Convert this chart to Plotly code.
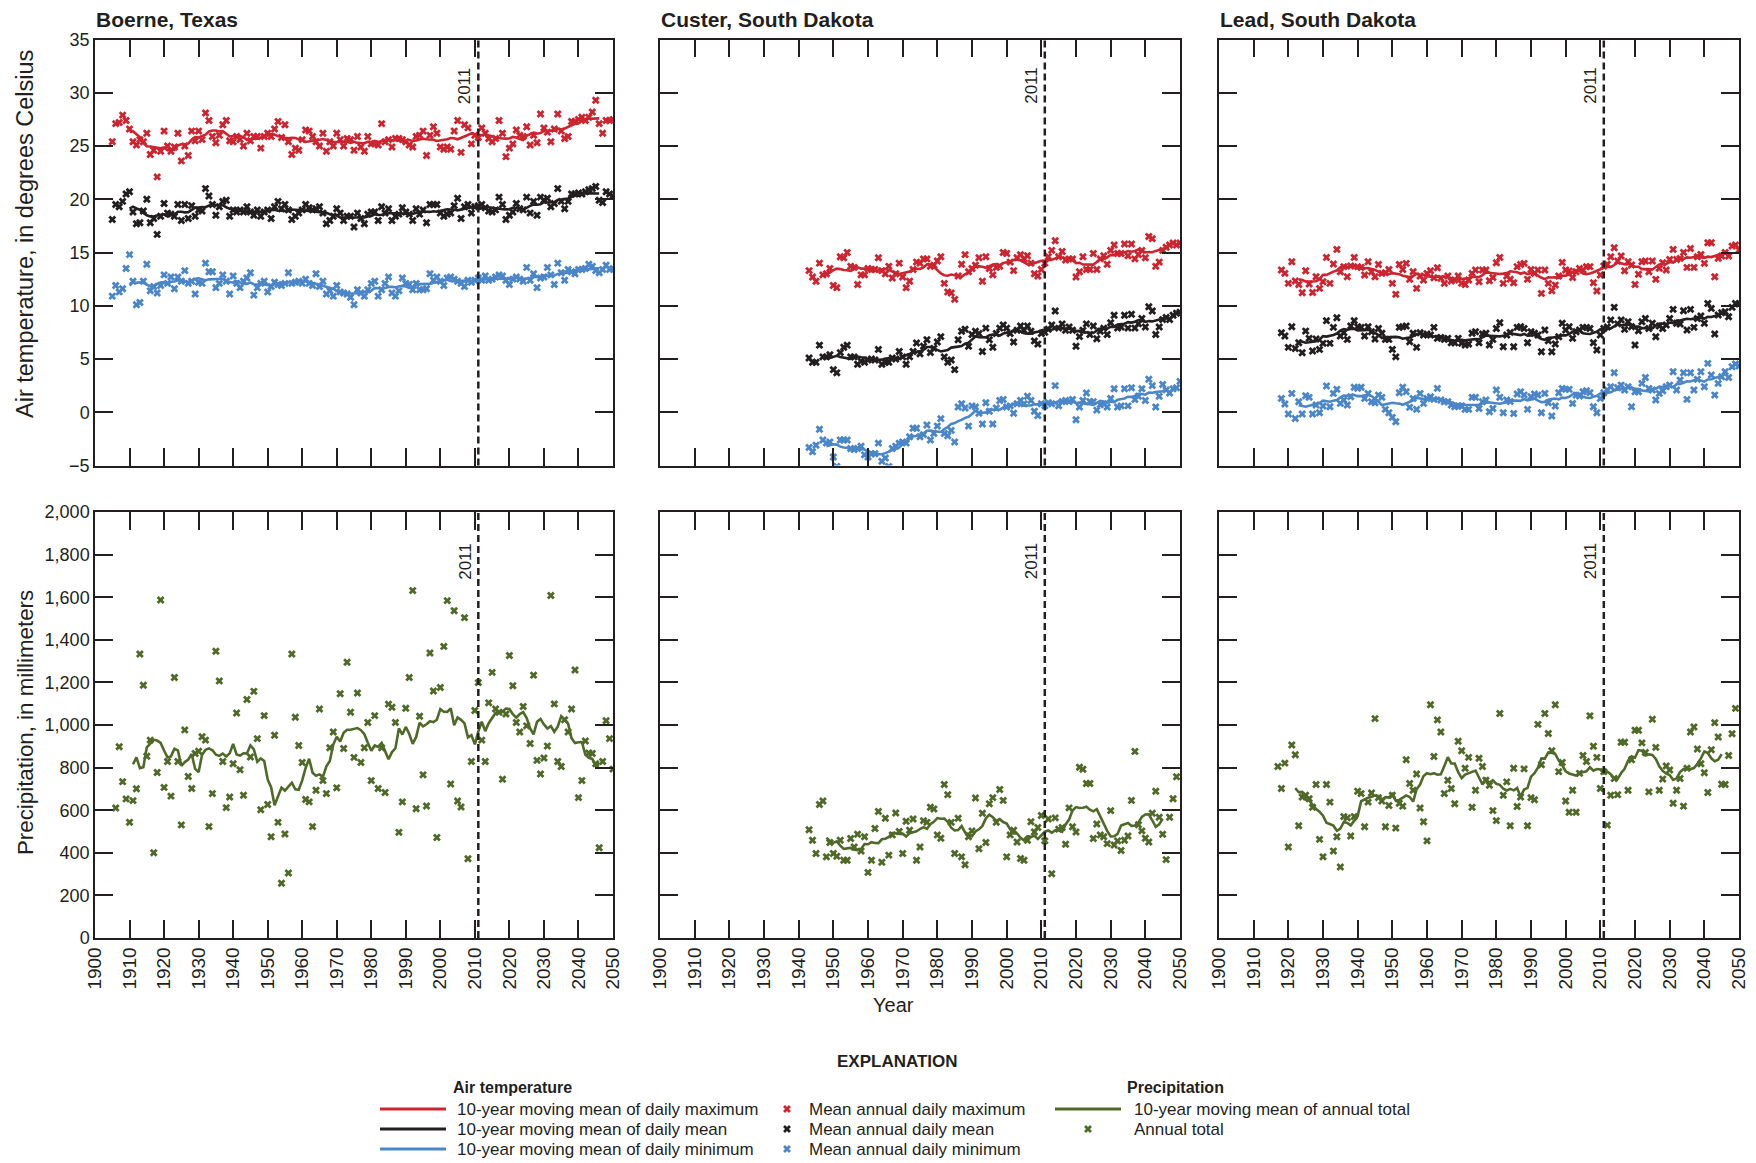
import pandas as pd
import plotly.graph_objects as go

W, H = 1756, 1163
FONT = '"Liberation Sans", Arial, sans-serif'
RED, BLACK, BLUE, GREEN = "#cc2530", "#231f20", "#4a86c8", "#4f6a28"

# ---------------- data ----------------
sites = ["Boerne, Texas", "Custer, South Dakota", "Lead, South Dakota"]
marker_year = 2011

boerne_t_start = 1905
boerne_tmax = [25.4, 27.1, 27.2, 27.9, 27.4, 26.6, 25.4, 25.1, 25.6, 25.4,
               26.2, 24.2, 24.6, 22.1, 24.5, 26.4, 25.0, 24.5, 24.9, 26.2,
               23.6, 25.0, 24.1, 26.4, 25.5, 26.4, 25.6, 28.1, 27.4, 25.9,
               25.3, 26.0, 27.0, 27.4, 25.5, 25.4, 25.9, 25.6, 25.0, 26.2,
               25.5, 25.9, 25.9, 24.8, 25.9, 26.2, 25.9, 26.6, 27.3, 25.8,
               27.0, 25.4, 24.2, 24.8, 24.6, 25.6, 26.5, 26.4, 25.9, 25.4,
               25.0, 26.2, 24.5, 25.4, 25.0, 26.2, 25.6, 25.0, 25.7, 25.6,
               24.6,
               25.9, 24.9, 24.5, 25.9, 25.2, 25.2, 25.1, 27.1, 25.4, 25.6,
               24.9, 25.7, 25.7, 25.6, 25.4, 25.1, 24.9, 25.9, 26.0, 26.4,
               24.1, 26.0, 26.8, 26.2, 24.9, 24.7, 24.9, 24.7, 26.4, 27.4,
               24.4, 27.0, 26.7, 25.2, 26.0, 25.8, 26.7, 26.2, 25.7, 25.4,
               25.7, 27.4, 26.2, 24.0, 24.8, 25.2, 26.5, 26.0, 25.9, 26.8,
               25.1, 26.0, 25.3, 28.0, 26.7, 26.3, 25.4, 26.6, 28.0, 26.4,
               25.7, 25.9, 27.3, 27.3, 27.5, 27.7, 27.4, 27.7, 28.2, 29.3,
               27.1, 26.2, 27.4, 27.4, 27.5]
boerne_tmean = [18.1, 19.5, 19.3, 19.8, 20.5, 20.7, 18.8, 17.7, 17.8, 18.9,
                20.0, 17.8, 18.2, 16.7, 18.4, 19.6, 18.7, 18.6, 18.4, 19.5,
                18.0, 19.5, 18.2, 19.4, 18.4, 19.0, 18.9, 21.0, 20.3, 19.5,
                18.5, 19.3, 19.8, 19.9, 18.4, 19.0, 18.8, 19.0, 18.8, 19.3,
                18.8, 18.5, 19.0, 18.4, 18.8, 19.0, 18.2, 19.3, 19.8, 19.1,
                19.5, 19.0, 18.1, 18.4, 18.7, 19.0, 19.5, 19.2, 19.0, 19.1,
                19.3, 18.7, 17.7, 18.0, 18.4, 19.1, 18.7, 18.0, 18.4, 18.4,
                17.4,
                18.7, 18.2, 17.7, 18.6, 18.8, 18.8, 18.0, 19.3, 18.7, 19.1,
                18.0, 18.4, 18.6, 19.2, 18.8, 18.6, 18.0, 19.1, 18.6, 19.0,
                17.8, 19.5, 19.5, 19.5, 18.7, 18.4, 18.6, 18.7, 19.4, 20.1,
                18.2, 19.3, 19.5, 18.7, 19.3, 19.4, 19.5, 19.2, 18.9, 18.8,
                19.0, 20.2, 19.5, 18.1, 18.5, 18.8, 19.6, 19.1, 19.0, 20.2,
                18.7, 19.8, 18.5, 20.2, 19.9, 20.1, 19.3, 19.6, 21.0, 19.8,
                19.1, 19.8, 20.5, 20.5, 20.6, 20.5, 20.7, 20.9, 21.0, 21.2,
                19.9, 19.7, 20.7, 20.5, 20.3]
boerne_tmin = [10.9, 11.9, 11.3, 11.6, 13.5, 14.8, 12.3, 10.1, 10.3, 12.3,
               13.9, 11.4, 11.8, 11.2, 11.9, 12.9, 12.1, 12.7, 11.6, 12.7,
               12.3, 13.3, 12.1, 12.3, 11.1, 12.2, 12.1, 14.0, 13.2, 13.2,
               11.7, 12.1, 12.9, 12.3, 11.1, 12.8, 12.1, 11.7, 12.3, 12.6,
               13.1, 11.0, 11.7, 12.1, 12.3, 11.3, 11.8, 12.2, 12.0, 11.9,
               12.1, 13.1, 12.1, 12.2, 12.3, 12.1, 12.5, 12.1, 11.9, 13.0,
               11.8, 12.3, 11.1, 11.4, 10.9, 11.9, 11.3, 11.2, 11.1, 10.8,
               10.1,
               11.5, 11.2, 10.9, 11.5, 12.1, 12.3, 10.9, 11.5, 12.1, 12.7,
               11.2, 10.9, 11.4, 12.6, 12.1, 12.0, 11.5, 12.1, 11.5, 11.5,
               11.6, 13.0, 12.4, 12.7, 12.3, 11.9, 12.6, 12.7, 12.5, 12.3,
               12.1, 11.8, 12.4, 12.2, 12.4, 12.6, 12.4, 12.8, 12.4, 12.5,
               12.7, 12.9, 12.8, 12.4, 12.0, 12.5, 12.7, 12.5, 12.3, 13.6,
               12.4, 13.0, 11.7, 12.6, 12.7, 13.6, 12.9, 12.0, 14.0, 13.1,
               12.4, 13.4, 13.2, 13.0, 13.4, 13.4, 13.5, 13.9, 13.7, 13.3,
               13.1, 13.4, 13.8, 13.4, 13.5]
boerne_p_start = 1906
boerne_precip = [610, 898, 734, 653, 543, 645, 701, 1333, 1187, 853,
                 929, 400, 777, 1587, 707, 829, 666, 1223, 829, 531,
                 977, 758, 702, 866, 877, 945, 929, 523, 678, 1346,
                 1207, 829, 612, 662, 818, 1056, 790, 670, 1120, 850,
                 1158, 936, 602, 1044, 627, 475, 952, 543, 257, 488,
                 305, 1333, 1036, 904, 824, 650, 639, 523, 694, 1075,
                 739, 678, 893, 967, 705, 1147, 890, 1295, 1060, 848,
                 1150, 824, 893, 1012, 739, 1044, 702, 893, 683, 1098,
                 1083, 1012, 496, 639, 1079, 1223, 1631, 607, 1041, 766,
                 620, 1338, 1160, 472, 1176, 1369, 1584, 723, 1536, 643,
                 615, 1504, 372, 829, 1068, 1199, 929, 829, 1104, 1247,
                 1075, 1060, 745, 1052, 1326, 1184, 1012, 967, 1087, 996,
                 913, 1234, 834, 770, 845, 901, 1608, 1099, 829, 805,
                 1025, 967, 1075, 1258, 659, 739, 925, 869, 866, 818,
                 424, 829, 1020, 936, 793]

custer_t_start = 1943
custer_tmax = [13.3, 12.7, 12.3, 14.0, 12.9, 13.0, 13.5, 11.9, 11.7, 14.6,
               14.5, 15.0, 13.7, 13.6, 12.0, 12.9, 12.9, 13.5, 13.4, 13.4,
               14.5, 13.3, 13.0, 13.7, 12.6, 13.0, 14.0, 12.7, 11.7, 12.3,
               13.4, 14.1, 14.0, 14.4, 14.4, 13.7, 13.8, 14.2, 14.6, 12.1,
               11.3, 11.2, 10.6, 12.8, 13.9, 14.8, 13.2, 13.5, 13.8, 14.5,
               12.3, 14.6, 13.5, 12.9, 13.6, 13.7, 15.0, 14.9, 14.1, 13.3,
               14.5, 14.8, 14.4, 14.7, 14.0, 13.0, 12.8, 13.4, 14.0, 14.6,
               15.2, 16.1, 14.6, 15.1, 14.3, 14.4, 14.4, 12.7, 13.2, 14.6,
               13.4, 13.4, 14.9, 13.4, 14.4, 14.7, 13.9, 15.2, 15.7, 14.9,
               14.9, 15.8, 14.7, 15.8, 14.4, 14.8, 15.2, 14.5, 16.5, 16.3,
               13.7, 14.1, 15.2, 15.5, 15.7, 15.9, 15.7, 15.9]
custer_tmean = [5.1, 4.7, 4.7, 6.3, 5.2, 5.2, 5.4, 4.0, 3.7, 5.6,
                6.1, 6.3, 5.2, 5.2, 4.5, 4.8, 4.7, 4.9, 5.0, 4.9,
                5.9, 4.5, 4.7, 4.7, 5.1, 5.0, 5.7, 5.2, 4.5, 5.2,
                5.7, 6.5, 5.5, 6.2, 6.8, 5.6, 6.0, 6.6, 7.1, 5.2,
                4.7, 4.9, 4.0, 6.8, 7.6, 7.8, 6.2, 7.3, 7.6, 7.4,
                5.7, 7.9, 6.8, 6.1, 7.4, 7.9, 8.2, 7.9, 7.4, 6.6,
                7.7, 8.1, 7.7, 8.1, 7.6, 6.7, 6.4, 7.4, 7.5, 7.8,
                8.2, 9.5, 7.9, 8.3, 7.7, 8.0, 7.7, 6.2, 7.1, 7.7,
                8.3, 7.3, 8.1, 6.9, 7.6, 7.9, 7.3, 8.4, 9.1, 7.9,
                8.0, 9.1, 7.9, 9.2, 7.9, 8.3, 8.8, 8.0, 9.9, 9.5,
                7.3, 8.0, 8.7, 8.9, 8.7, 9.1, 9.3, 9.4]
custer_tmin = [-3.3, -3.7, -3.1, -1.6, -2.6, -2.9, -2.8, -4.2, -5.1, -2.6,
               -2.6, -2.6, -3.4, -3.5, -3.4, -3.2, -4.0, -4.2, -3.9, -3.9,
               -2.9, -4.6, -4.3, -5.1, -3.4, -3.2, -2.9, -2.8, -2.9, -2.3,
               -1.5, -1.5, -2.3, -2.1, -1.2, -2.6, -2.0, -1.3, -0.6, -2.0,
               -2.2, -1.7, -2.8, 0.5, 0.8, 0.4, -1.3, 0.6, 0.5, -0.1,
               -1.1, 0.9, 0.1, -1.1, 0.4, 1.1, 1.2, 0.5, 0.6, -0.1,
               0.8, 1.1, 0.8, 1.5, 1.1, 0.1, -0.3, 0.8, 0.6, 0.9,
               0.8, 2.5, 0.6, 1.0, 1.1, 1.0, 1.2, -0.7, 0.5, 1.1,
               1.8, 1.0, 1.0, 0.2, 0.7, 0.8, 0.5, 1.3, 2.2, 0.5,
               0.6, 2.2, 0.6, 2.3, 1.2, 1.5, 2.2, 1.1, 3.1, 2.5,
               0.5, 1.5, 2.6, 2.1, 1.8, 2.2, 2.3, 2.9]
custer_p_start = 1943
custer_precip = [508, 459, 397, 627, 643, 381, 448, 397, 384, 459,
                 365, 365, 467, 427, 487, 408, 475, 308, 365, 514,
                 594, 356, 562, 389, 484, 587, 500, 397, 548, 506,
                 559, 365, 427, 551, 543, 614, 606, 484, 468, 721,
                 673, 543, 397, 562, 381, 344, 475, 503, 657, 419,
                 586, 448, 630, 659, 543, 697, 646, 381, 484, 506,
                 451, 373, 365, 459, 546, 498, 519, 575, 456, 559,
                 302, 564, 511, 519, 440, 611, 522, 498, 802, 792,
                 725, 725, 467, 535, 484, 475, 443, 598, 437, 456,
                 411, 459, 479, 646, 876, 532, 503, 468, 451, 586,
                 689, 567, 487, 368, 567, 654, 757]

lead_t_start = 1918
lead_tmax = [13.35, 13.04, 12.1, 14.13, 12.32, 12.0, 11.22, 13.29, 12.04, 11.25,
             12.73, 11.63, 12.26, 14.54, 12.1, 13.92, 15.29, 13.2, 13.67, 12.73,
             13.73, 14.54, 13.67, 13.6, 12.88, 14.13, 13.2, 12.73, 13.88, 13.04,
             13.1, 13.41, 12.1, 11.07, 13.88, 13.41, 13.98, 12.48, 13.2, 11.63,
             12.79, 12.41, 13.04, 13.29, 12.63, 13.57, 12.57, 12.1, 12.79, 12.32,
             12.41, 12.79, 12.1, 12.0, 12.41, 13.04, 13.35, 12.26, 13.35, 13.35,
             12.35, 12.66, 14.04,
             14.54, 12.1, 12.79, 12.5, 12.16, 13.67, 13.88, 13.98, 12.48, 13.41,
             13.04, 13.35, 11.16, 13.35, 12.1, 11.41, 11.94, 12.79, 14.07, 13.35,
             13.26, 12.66, 13.2, 13.51, 13.35, 13.67, 13.67, 12.16, 11.38, 12.88,
             13.73, 13.9, 14.6, 15.45, 14.2, 14.67, 13.29, 14.13, 13.82, 12.0,
             12.95, 14.13, 14.2, 13.2, 14.2, 12.48, 13.51, 14.04, 13.35, 14.35,
             15.29, 14.35, 14.45, 15.01, 13.6, 15.38, 13.6, 14.6, 14.82, 13.98,
             15.92, 15.92, 12.73, 14.45, 14.67, 15.01, 14.67, 15.6, 15.7, 15.23]
lead_tmean = [7.47, 7.16, 6.09, 8.03, 5.99, 6.53, 5.59, 7.62, 6.94, 5.75,
              6.87, 5.9, 6.47, 8.6, 6.47, 7.97, 8.88, 7.16, 7.47, 6.84,
              8.1, 8.6, 8.03, 7.97, 7.16, 8.03, 7.56, 6.87, 7.87, 7.41,
              6.84, 6.84, 5.9, 5.2, 7.97, 8.03, 8.1, 6.62, 7.41, 6.09,
              7.47, 7.25, 7.34, 7.25, 7.97, 6.94, 7.03, 6.84, 6.94, 6.53,
              6.53, 6.94, 6.47, 6.31, 6.41, 7.41, 7.56, 6.53, 7.34, 7.41,
              6.31, 6.84, 7.87,
              8.41, 6.15, 7.25, 7.5, 6.15, 7.97, 8.03, 7.87, 6.53, 7.56,
              7.41, 7.25, 5.68, 7.72, 6.72, 5.68, 6.41, 7.09, 8.35, 7.72,
              8.03, 6.94, 7.56, 7.72, 7.97, 7.97, 7.87, 6.53, 5.84, 7.25,
              7.87, 8.0, 8.66, 9.85, 8.3, 8.66, 7.78, 8.5, 8.03, 6.31,
              7.66, 8.5, 8.81, 7.87, 8.35, 7.09, 8.1, 7.87, 8.19, 8.81,
              9.66, 8.35, 8.28, 9.53, 7.72, 9.66, 7.97, 8.81, 9.03, 8.35,
              10.22, 9.75, 7.34, 9.13, 9.35, 9.44, 8.97, 9.85, 10.22, 10.16]
lead_tmin = [1.3, 0.77, -0.17, 1.77, -0.58, 0.99, -0.17, 1.55, 1.4, -0.17,
             0.68, -0.04, 0.58, 2.46, 0.52, 1.77, 2.15, 0.83, 1.15, 0.68,
             1.46, 2.34, 2.24, 2.34, 1.3, 1.77, 0.99, 0.9, 1.61, 1.4,
             0.27, -0.04, -0.48, -0.89, 1.83, 2.34, 1.93, 0.46, 1.3, 0.27,
             1.77, 0.83, 1.3, 1.46, 1.21, 2.24, 1.15, 0.99, 0.99, 0.68,
             0.52, 0.58, 0.58, 0.27, 0.27, 1.4, 1.4, 0.36, 0.99, 1.15,
             0.05, 0.36, 2.09,
             1.4, -0.04, 1.15, 1.0, -0.11, 1.71, 1.93, 1.61, 0.27, 1.46,
             1.71, 1.61, -0.04, 1.77, 0.9, -0.36, 0.58, 1.83, 2.24, 2.15,
             2.15, 0.83, 1.61, 1.52, 1.93, 2.02, 1.83, 0.52, -0.04, 1.3,
             1.83, 2.1, 2.4, 3.71, 2.3, 2.55, 2.09, 2.4, 0.52, 1.93,
             1.93, 2.71, 3.27, 2.24, 2.09, 1.15, 1.77, 2.02, 2.4, 2.55,
             3.81, 2.09, 3.02, 3.71, 1.21, 3.71, 2.09, 3.09, 3.81, 2.4,
             4.59, 3.49, 1.61, 2.71, 3.33, 3.81, 3.27, 4.27, 4.53, 4.34]
lead_p_start = 1917
lead_precip = [805, 702, 821, 427, 906, 860, 527, 662, 670, 654,
               614, 721, 463, 381, 721, 638, 408, 475, 333, 570,
               564, 479, 570, 689, 678, 522, 638, 681, 1030, 659,
               643, 522, 622, 670, 516, 633, 619, 837, 725, 694,
               770, 610, 546, 456, 1095, 852, 1024, 967, 678, 741,
               702, 630, 924, 879, 797, 848, 614, 694, 844, 805,
               741, 717, 598, 551, 1054, 670, 733, 527, 797, 617,
               662, 794, 527, 659, 649, 1003, 813, 1054, 960, 879,
               1095, 781, 824, 643, 590, 694, 590, 773, 857, 829,
               1043, 900, 848, 702, 781, 530, 670, 749, 673, 919,
               919, 694, 837, 975, 975, 916, 871, 686, 1027, 895,
               694, 746, 808, 789, 633, 694, 749, 619, 797, 967,
               991, 887, 818, 776, 683, 884, 1011, 944, 722, 721,
               857, 959, 1078]

temp_ticks = [-5, 0, 5, 10, 15, 20, 25, 30, 35]
precip_ticks = list(range(0, 2001, 200))
year_ticks = list(range(1900, 2051, 10))

legend_lines = ["10-year moving mean of daily maximum", "10-year moving mean of daily mean",
                "10-year moving mean of daily minimum"]
legend_marks = ["Mean annual daily maximum", "Mean annual daily mean", "Mean annual daily minimum"]

# ---------------- helpers ----------------
def years(start, vals):
    return list(range(start, start + len(vals)))


def moving(start, vals):
    s = pd.Series(vals, index=years(start, vals), dtype=float)
    r = s.rolling(10, center=True).mean().dropna()
    return list(r.index), list(r.values)


fig = go.Figure()

col_px = [(95, 613), (660, 1180), (1219, 1739)]
row_px = [(39.5, 465.5), (512, 938)]


def xd(a, b):
    return [a / W, b / W]


def yd(top, bot):
    return [1 - bot / H, 1 - top / H]


temp_data = [
    (boerne_t_start, boerne_tmax, boerne_tmean, boerne_tmin),
    (custer_t_start, custer_tmax, custer_tmean, custer_tmin),
    (lead_t_start, lead_tmax, lead_tmean, lead_tmin),
]
prec_data = [
    (boerne_p_start, boerne_precip),
    (custer_p_start, custer_precip),
    (lead_p_start, lead_precip),
]

MS = 7
for c, (st, tmax, tmean, tmin) in enumerate(temp_data):
    ax = "" if c == 0 else str(c + 1)
    for vals, col in ((tmax, RED), (tmean, BLACK), (tmin, BLUE)):
        fig.add_trace(go.Scatter(x=years(st, vals), y=vals, mode="markers",
                                 marker=dict(symbol="x", size=MS, color=col, line=dict(width=0)),
                                 xaxis="x" + ax, yaxis="y" + ax, showlegend=False, hoverinfo="skip"))
    for vals, col in ((tmax, RED), (tmean, BLACK), (tmin, BLUE)):
        mx, my = moving(st, vals)
        fig.add_trace(go.Scatter(x=mx, y=my, mode="lines", line=dict(color=col, width=2.6),
                                 xaxis="x" + ax, yaxis="y" + ax, showlegend=False, hoverinfo="skip"))

for c, (st, vals) in enumerate(prec_data):
    ax = str(c + 4)
    fig.add_trace(go.Scatter(x=years(st, vals), y=vals, mode="markers",
                             marker=dict(symbol="x", size=MS, color=GREEN, line=dict(width=0)),
                             xaxis="x" + ax, yaxis="y" + ax, showlegend=False, hoverinfo="skip"))
    mx, my = moving(st, vals)
    fig.add_trace(go.Scatter(x=mx, y=my, mode="lines", line=dict(color=GREEN, width=2.6),
                             xaxis="x" + ax, yaxis="y" + ax, showlegend=False, hoverinfo="skip"))

axis_common = dict(ticks="inside", ticklen=18, tickwidth=1.5, tickcolor=BLACK, showline=True,
                   linecolor=BLACK, linewidth=1.5, mirror="ticks", showgrid=False, zeroline=False,
                   tickfont=dict(family=FONT, size=18, color=BLACK))

layout = dict(width=W, height=H, autosize=False, margin=dict(l=0, r=0, t=0, b=0, pad=0, autoexpand=False),
              paper_bgcolor="white", plot_bgcolor="rgba(0,0,0,0)", showlegend=False,
              font=dict(family=FONT, color=BLACK))

for r in range(2):
    for c in range(3):
        i = r * 3 + c + 1
        key = "" if i == 1 else str(i)
        xa = dict(axis_common, domain=xd(*col_px[c]), range=[1900, 2050], tickvals=year_ticks,
                  anchor="y" + key, showticklabels=(r == 1), tickangle=-90,
                  tickfont=dict(family=FONT, size=19, color=BLACK))
        if r == 0:
            ya = dict(axis_common, domain=yd(*row_px[0]), range=[-5, 35], tickvals=temp_ticks,
                      anchor="x" + key, showticklabels=(c == 0))
        else:
            ya = dict(axis_common, domain=yd(*row_px[1]), range=[0, 2000], tickvals=precip_ticks,
                      tickformat=",", anchor="x" + key, showticklabels=(c == 0))
        layout["xaxis" + key] = xa
        layout["yaxis" + key] = ya

# hidden overlay axis for the explanation block (pixel-like coordinates)
layout["xaxis7"] = dict(domain=[0, 1], range=[0, W], visible=False, fixedrange=True)
layout["yaxis7"] = dict(domain=[0, 1], range=[H, 0], visible=False, fixedrange=True)
fig.update_layout(**layout)

shapes = []
annotations = []
for i in range(1, 7):
    key = "" if i == 1 else str(i)
    shapes.append(dict(type="line", xref="x" + key, yref="y" + key + " domain", x0=marker_year,
                       x1=marker_year, y0=0, y1=1, line=dict(color=BLACK, width=2.5, dash="7px,4px")))
    mid_off = 46 if i <= 3 else 49
    annotations.append(dict(text=str(marker_year), x=marker_year, xref="x" + key,
                            y=1 - mid_off / 426, yref="y" + key + " domain", textangle=-90,
                            xanchor="right", yanchor="middle", xshift=-2, showarrow=False,
                            font=dict(family=FONT, size=17, color=BLACK)))

for c, name in enumerate(sites):
    annotations.append(dict(text="<b>" + name + "</b>", x=(col_px[c][0] - 1) / W, y=1 - 19 / H,
                            xref="paper", yref="paper", xanchor="left", yanchor="middle",
                            showarrow=False, font=dict(family=FONT, size=21, color=BLACK)))

annotations.append(dict(text="Air temperature, in degrees Celsius", x=25 / W, y=1 - 234 / H,
                        xref="paper", yref="paper", textangle=-90, showarrow=False,
                        xanchor="center", yanchor="middle", font=dict(family=FONT, size=23.5, color=BLACK)))
annotations.append(dict(text="Precipitation, in millimeters", x=25 / W, y=1 - 723 / H,
                        xref="paper", yref="paper", textangle=-90, showarrow=False,
                        xanchor="center", yanchor="middle", font=dict(family=FONT, size=22.3, color=BLACK)))
annotations.append(dict(text="Year", x=893 / W, y=1 - 1005 / H, xref="paper", yref="paper",
                        showarrow=False, xanchor="center", yanchor="middle",
                        font=dict(family=FONT, size=20, color=BLACK)))

# explanation
def pa(text, x, y, size=17, anchor="left"):
    annotations.append(dict(text=text, x=x / W, y=1 - y / H, xref="paper", yref="paper",
                            showarrow=False, xanchor=anchor, yanchor="middle",
                            font=dict(family=FONT, size=size, color=BLACK)))

pa("<b>EXPLANATION</b>", 897, 1061, size=17, anchor="center")
pa("<b>Air temperature</b>", 451, 1087, size=16)
pa("<b>Precipitation</b>", 1125, 1087, size=16)
rows_y = [1109, 1129, 1149]
for k, col in enumerate((RED, BLACK, BLUE)):
    shapes.append(dict(type="line", xref="paper", yref="paper", x0=380 / W, x1=446 / W,
                       y0=1 - rows_y[k] / H, y1=1 - rows_y[k] / H, line=dict(color=col, width=3)))
    pa(legend_lines[k], 455, rows_y[k])
    pa(legend_marks[k], 807, rows_y[k])
shapes.append(dict(type="line", xref="paper", yref="paper", x0=1055 / W, x1=1121 / W,
                   y0=1 - rows_y[0] / H, y1=1 - rows_y[0] / H, line=dict(color=GREEN, width=3)))
pa("10-year moving mean of annual total", 1132, rows_y[0])
pa("Annual total", 1132, rows_y[1])

fig.add_trace(go.Scatter(x=[787, 787, 787, 1088], y=[rows_y[0], rows_y[1], rows_y[2], rows_y[1]],
                         mode="markers", marker=dict(symbol="x", size=MS, color=[RED, BLACK, BLUE, GREEN],
                                                     line=dict(width=0)),
                         xaxis="x7", yaxis="y7", showlegend=False, hoverinfo="skip", cliponaxis=False))

fig.update_layout(shapes=shapes, annotations=annotations)
fig.write_html("out.html", config={"displayModeBar": False, "responsive": False},
               default_width="1756px", default_height="1163px",
               post_script="document.body.style.margin='0';document.body.style.padding='0';"
                           "document.body.style.overflow='hidden';")
